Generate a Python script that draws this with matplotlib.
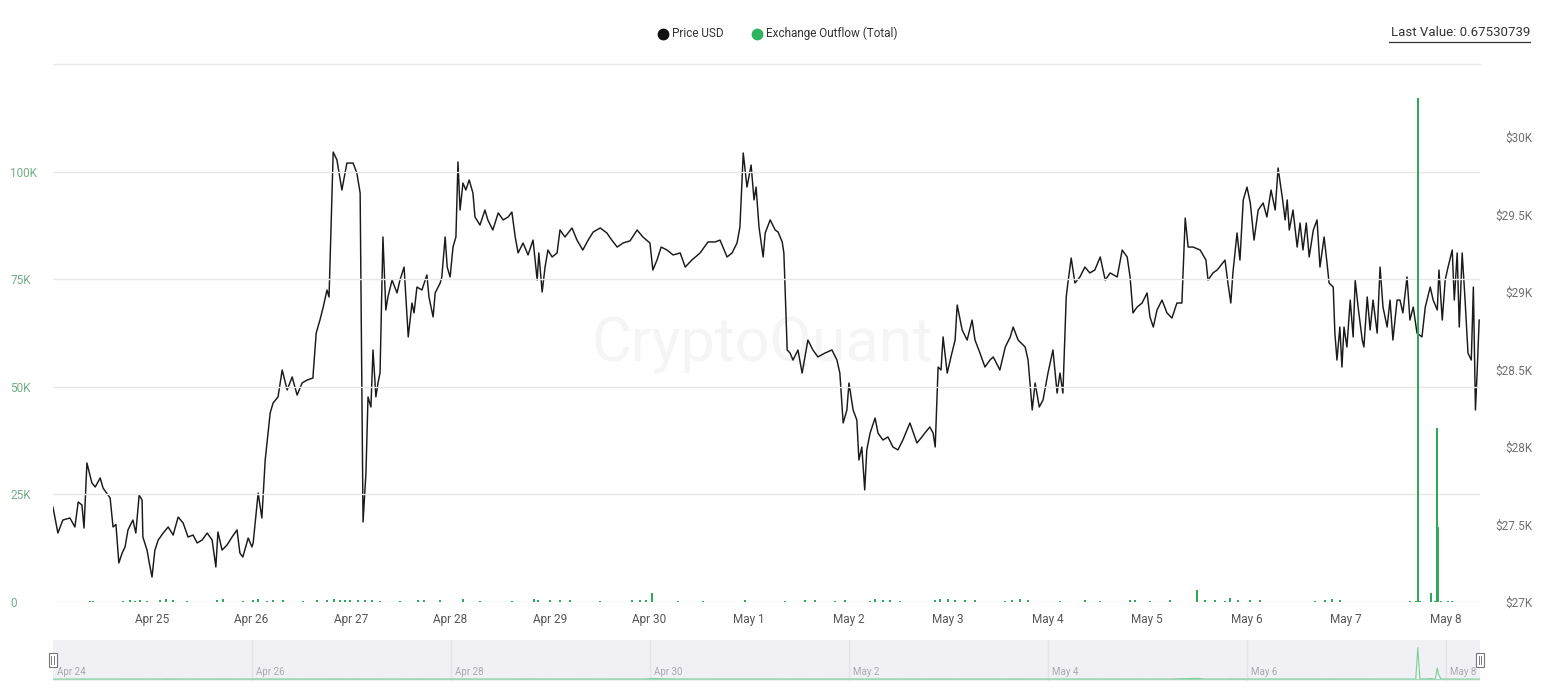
import matplotlib
matplotlib.use("Agg")
import matplotlib.pyplot as plt
from matplotlib.lines import Line2D
from matplotlib.patches import Rectangle

plt.rcParams['font.family'] = ['Roboto', 'DejaVu Sans']

# ---------------- data ----------------
# hours since Apr 24 00:00
price_hours = [0.1, 1.3, 2.5, 4.2, 5.4, 6.2, 7.1, 7.6, 8.3, 9.5, 10.3, 11.5, 12.2, 13.9, 14.6, 15.3, 16.0, 16.8,
               17.5, 18.2, 19.4, 20.1, 20.9, 21.6, 21.8, 22.8, 23.3, 24.0, 24.7, 25.5, 26.7, 27.9, 29.1, 30.3,
               31.5, 32.7, 33.9, 34.9, 36.1, 37.3, 38.5, 39.4, 39.9, 40.9, 42.1, 43.3, 44.5, 45.2, 45.9, 47.2,
               48.1, 48.4, 49.6, 50.5, 51.3, 52.5, 53.2, 54.4, 55.4, 56.6, 57.8, 59.0, 60.2, 61.4, 62.8, 63.6,
               64.5, 65.3, 66.2, 66.7, 67.7, 68.6, 69.8, 71.0, 72.5, 73.4, 74.2, 74.9, 75.6, 76.1, 76.8, 77.3,
               78.0, 78.5, 79.0, 79.7, 80.4, 80.9, 81.9, 83.1, 83.8, 84.8, 85.8, 86.7, 87.2, 87.9, 89.1, 90.3,
               90.8, 91.8, 92.3, 93.5, 93.9, 94.7, 95.2, 95.9, 96.6, 97.3, 97.8, 98.3, 99.0, 99.7, 100.5, 101.4,
               101.9, 103.1, 104.3, 105.0, 106.2, 107.5, 108.7, 109.9, 110.8, 111.6, 112.3, 113.5, 114.7, 115.9,
               116.9, 117.3, 118.1, 118.8, 119.5, 120.5, 121.7, 122.4, 123.6, 125.3, 126.5, 127.9, 129.2, 130.4,
               132.1, 133.7, 134.9, 136.2, 137.6, 139.3, 141.0, 142.4, 144.1, 144.8, 145.8, 146.8, 148.2, 149.7,
               151.4, 152.6, 154.2, 156.2, 158.1, 159.8, 161.0, 162.7, 163.9, 165.1, 165.8, 166.6, 167.5, 168.5,
               169.2, 169.7, 170.4, 171.4, 171.9, 173.1, 174.3, 175.0, 176.0, 176.4, 177.2, 177.9, 178.6, 179.8,
               180.8, 182.2, 183.4, 184.6, 186.3, 188.0, 189.2, 189.9, 190.7, 191.6, 192.1, 193.1, 194.0, 194.5,
               195.2, 195.9, 196.4, 197.2, 198.4, 199.1, 200.3, 201.5, 202.7, 203.9, 205.1, 206.8, 208.5, 209.7,
               210.4, 211.6, 212.4, 212.9, 213.6, 214.3, 214.8, 215.8, 216.7, 217.7, 218.2, 219.4, 220.6, 221.8,
               222.5, 223.7, 224.9, 226.1, 226.9, 228.5, 229.8, 231.0, 231.7, 232.9, 234.6, 235.3, 236.3, 237.0,
               238.0, 238.9, 240.1, 241.3, 242.3, 243.0, 243.7, 244.5, 244.9, 245.7, 246.6, 247.8, 249.0, 250.2,
               251.4, 252.7, 253.9, 255.1, 256.8, 258.0, 259.2, 259.9, 260.6, 261.6, 262.8, 264.0, 264.7, 265.5,
               266.4, 267.6, 268.8, 270.0, 271.2, 272.4, 273.2, 273.9, 275.1, 276.8, 278.2, 278.7, 279.9, 280.9,
               282.8, 283.5, 284.2, 284.7, 285.7, 286.4, 287.2, 288.1, 288.9, 289.8, 290.8, 292.0, 292.9, 293.9,
               294.9, 295.6, 296.6, 297.3, 297.8, 298.3, 299.2, 300.2, 300.9, 301.6, 302.4, 303.1, 304.1, 305.0,
               305.7, 306.7, 307.4, 307.9, 308.9, 309.3, 309.8, 310.5, 311.0, 311.5, 312.2, 313.0, 313.7, 314.2,
               314.9, 315.9, 316.3, 317.1, 317.8, 318.5, 319.5, 320.2, 320.9, 321.9, 322.6, 323.3, 324.3, 325.0,
               325.7, 326.7, 327.4, 328.2, 329.1, 330.3, 331.1, 332.3, 333.0, 334.0, 334.4, 335.2, 335.9, 336.6,
               337.6, 338.1, 338.8, 339.3, 340.0, 340.7, 341.4, 342.2, 342.7, 343.2, 343.6, 344.1]

price_usd = [27613, 27445, 27529, 27542, 27484, 27645, 27626, 27477, 27897, 27768, 27742, 27800, 27735, 27671,
             27484, 27500, 27252, 27316, 27355, 27465, 27529, 27445, 27690, 27658, 27419, 27335, 27258, 27161,
             27335, 27400, 27445, 27484, 27432, 27548, 27510, 27419, 27432, 27381, 27400, 27445, 27400, 27226,
             27452, 27335, 27368, 27419, 27465, 27316, 27290, 27413, 27355, 27381, 27703, 27542, 27916, 28219,
             28284, 28323, 28497, 28368, 28452, 28335, 28413, 28432, 28445, 28735, 28819, 28903, 29013, 28968,
             29903, 29852, 29658, 29832, 29832, 29768, 29639, 27516, 27832, 28323, 28258, 28626, 28323, 28413,
             28477, 29355, 28884, 28968, 29077, 28994, 29077, 29161, 28710, 28929, 28865, 29032, 29013, 29110,
             28968, 28839, 28994, 29058, 29097, 29355, 29161, 29097, 29290, 29355, 29839, 29529, 29703, 29658,
             29723, 29639, 29484, 29432, 29529, 29465, 29400, 29510, 29465, 29484, 29516, 29355, 29252, 29316,
             29239, 29335, 29077, 29252, 29000, 29161, 29271, 29226, 29252, 29400, 29355, 29413, 29335, 29271,
             29335, 29387, 29413, 29381, 29335, 29290, 29316, 29330, 29400, 29355, 29316, 29142, 29206, 29290,
             29271, 29239, 29252, 29161, 29206, 29252, 29323, 29323, 29335, 29226, 29252, 29316, 29419, 29897,
             29677, 29819, 29594, 29677, 29419, 29226, 29381, 29465, 29400, 29387, 29323, 29252, 28626, 28606,
             28561, 28626, 28477, 28690, 28626, 28581, 28606, 28626, 28561, 28477, 28155, 28239, 28413, 28239,
             28174, 27916, 28000, 27723, 27981, 28090, 28187, 28090, 28045, 28065, 28000, 27981, 28045, 28155,
             28026, 28065, 28090, 28129, 28090, 28000, 28516, 28497, 28710, 28477, 28581, 28690, 28916, 28755,
             28690, 28819, 28690, 28606, 28516, 28561, 28581, 28497, 28645, 28710, 28774, 28690, 28645, 28561,
             28239, 28413, 28258, 28303, 28477, 28626, 28348, 28477, 28348, 28968, 29058, 29219, 29058, 29097,
             29161, 29123, 29142, 29226, 29077, 29123, 29097, 29271, 29226, 29097, 28865, 28903, 28929, 28994,
             28839, 28774, 28884, 28948, 28865, 28832, 28929, 28929, 29477, 29290, 29290, 29271, 29206, 29077,
             29123, 29142, 29206, 29058, 28929, 29123, 29381, 29206, 29594, 29677, 29574, 29335, 29529, 29574,
             29484, 29658, 29529, 29800, 29613, 29465, 29594, 29400, 29529, 29290, 29445, 29271, 29445, 29226,
             29400, 29465, 29161, 29355, 29187, 29058, 29032, 28735, 28561, 28774, 28516, 28774, 28645, 28948,
             28710, 29077, 28903, 28690, 28645, 28968, 28755, 28948, 28735, 29161, 28903, 28774, 28948, 28690,
             28948, 28948, 28865, 29097, 28819, 28903, 28735, 28710, 28903, 29032, 28948, 28884, 29142, 28819,
             29077, 29161, 29271, 28948, 29252, 28774, 29252, 28948, 28606, 28561, 29032, 28239, 28477, 28819]

outflow_hours = [9.0, 9.8, 17.0, 18.7, 19.9, 21.1, 22.8, 25.9, 27.4, 29.1, 32.4, 39.7, 41.1, 45.9, 48.4, 49.6,
                 51.7, 53.2, 55.6, 60.4, 63.8, 66.2, 67.9, 69.4, 70.6, 71.8, 73.7, 75.4, 77.0, 79.0, 83.8, 88.2,
                 89.6, 93.5, 99.0, 103.1, 110.8, 116.1, 117.1, 120.0, 122.4, 124.8, 132.1, 139.8, 141.7, 143.1,
                 144.6, 150.8, 156.9, 167.0, 176.7, 181.5, 183.9, 188.7, 191.2, 197.2, 198.4, 200.3, 202.0, 204.4,
                 212.9, 214.1, 216.0, 217.7, 220.1, 222.5, 229.8, 231.4, 233.4, 235.3, 243.0, 249.0, 252.7, 259.9,
                 261.1, 264.7, 269.5, 276.0, 278.0, 280.4, 282.8, 284.0, 285.9, 288.9, 291.2, 304.5, 306.9, 308.6,
                 310.5, 327.4, 328.8, 329.3, 329.8, 332.5, 333.5, 334.0, 334.3, 334.9, 336.6, 337.6]

outflow_total = [300, 250, 300, 400, 300, 450, 250, 350, 800, 400, 250, 500, 650, 300, 400, 600,
                 300, 450, 350, 300, 400, 350, 800, 500, 400, 450, 550, 350, 500, 300, 250, 550,
                 400, 350, 600, 250, 300, 800, 450, 350, 500, 400, 250, 400, 350, 450,
                 2100, 250, 300, 350, 300, 350, 450, 300, 400, 300, 600, 350, 450, 250,
                 500, 750, 600, 450, 350, 400, 300, 500, 650, 350, 300, 400, 250, 500,
                 350, 300, 350, 2800, 400, 500, 300, 900, 450, 350, 400, 300, 400, 650,
                 350, 250, 150, 117200, 150, 2000, 150, 40500, 17500, 150, 250, 300]

day_labels = ['Apr 25', 'Apr 26', 'Apr 27', 'Apr 28', 'Apr 29', 'Apr 30', 'May 1',
              'May 2', 'May 3', 'May 4', 'May 5', 'May 6', 'May 7', 'May 8']
nav_labels = ['Apr 24', 'Apr 26', 'Apr 28', 'Apr 30', 'May 2', 'May 4', 'May 6', 'May 8']
price_ticks = [27000, 27500, 28000, 28500, 29000, 29500, 30000]
price_tick_labels = ['$27K', '$27.5K', '$28K', '$28.5K', '$29K', '$29.5K', '$30K']
flow_ticks = [0, 25000, 50000, 75000, 100000]
flow_tick_labels = ['0', '25K', '50K', '75K', '100K']

# ---------------- figure ----------------
W, H = 1546, 692
fig = plt.figure(figsize=(W / 100, H / 100), dpi=100)
fig.patch.set_facecolor('white')

x0, x1, yb, yt = 52.5, 1480, 602, 64
ax = fig.add_axes([x0 / W, 1 - yb / H, (x1 - x0) / W, (yb - yt) / H])
ax.set_xlim(0, 344.3)
ax.set_ylim(27000, 30471)
for s in ax.spines.values():
    s.set_visible(False)

ax.text(0.497, 0.478, 'CryptoQuant', transform=ax.transAxes, fontsize=44, color='#f5f5f5',
        ha='center', va='center', zorder=0)

ax.plot(price_hours, price_usd, color='#1a1a1a', lw=1.05, zorder=3)

ax.set_xticks([24 * (i + 1) for i in range(len(day_labels))])
ax.set_xticklabels(day_labels)
ax.tick_params(axis='x', length=0, pad=8, labelsize=8.5, labelcolor='#555555')

ax2 = ax.twinx()
ax2.set_ylim(0, 125000)
for s in ax2.spines.values():
    s.set_visible(False)

# price ticks on the right
ax.yaxis.tick_right()
ax.set_yticks(price_ticks)
ax.set_yticklabels(price_tick_labels)
ax.tick_params(axis='y', which='both', left=False, right=True, labelleft=False, labelright=True,
               length=0, pad=38, labelsize=8.5, labelcolor='#707070')
for lab in ax.get_yticklabels(which='both'):
    lab.set_ha('right')

# outflow ticks on the left
ax2.yaxis.tick_left()
ax2.set_yticks(flow_ticks)
ax2.set_yticklabels(flow_tick_labels)
ax2.tick_params(axis='y', which='both', left=True, right=False, labelleft=True, labelright=False,
                length=0, pad=30.5, labelsize=8.5, labelcolor='#72ad86')
for lab in ax2.get_yticklabels(which='both'):
    lab.set_ha('left')
ax2.grid(axis='y', color='#e8e8e8', lw=1, zorder=0)
ax2.axhline(125000, color='#e8e8e8', lw=1, clip_on=False)
ax2.bar(outflow_hours, outflow_total, width=0.45, color='#2eaa5c', linewidth=0, zorder=4)

# ---------------- navigator ----------------
axn = fig.add_axes([x0 / W, 1 - 681 / H, (x1 - x0) / W, 41 / H])
axn.set_facecolor('#f1f1f5')
axn.set_xlim(0, 344.3)
axn.set_ylim(-7000, 145000)
for s in axn.spines.values():
    s.set_visible(False)
axn.set_xticks([])
axn.set_yticks([])
for i, lab in enumerate(nav_labels):
    h = 48 * i
    if i > 0:
        axn.axvline(h, color='#e3e3ea', lw=1)
    axn.text(h + 1.0, 0.22, lab, transform=axn.get_xaxis_transform(), fontsize=7,
             color='#a8a8b0', ha='left', va='center')
axn.plot([0] + outflow_hours + [344.3], [0] + outflow_total + [0], color='#7ccf9c', lw=0.8)
axn.axhline(0, color='#9fd8b5', lw=0.8)

for hx in (52.5, 1480):
    fig.add_artist(Rectangle(((hx - 4) / W, 1 - 667 / H), 8 / W, 14 / H, transform=fig.transFigure,
                             facecolor='white', edgecolor='#777777', lw=0.8))
    for dx in (-1.2, 1.2):
        fig.add_artist(Line2D([(hx + dx) / W] * 2, [1 - 664 / H, 1 - 656 / H], transform=fig.transFigure,
                              color='#777777', lw=0.7))

# ---------------- legend & last value ----------------
fig.add_artist(Line2D([663 / W], [1 - 33.5 / H], marker='o', markersize=7.5, color='#111111',
                      transform=fig.transFigure))
fig.text(672 / W, 1 - 33.5 / H, 'Price USD', fontsize=8.5, color='#333333', ha='left', va='center')
fig.add_artist(Line2D([757 / W], [1 - 33.5 / H], marker='o', markersize=7.5, color='#2eb35f',
                      transform=fig.transFigure))
fig.text(766 / W, 1 - 33.5 / H, 'Exchange Outflow (Total)', fontsize=8.5, color='#333333',
         ha='left', va='center')

fig.text(1530 / W, 1 - 33 / H, 'Last Value: 0.67530739', fontsize=9.5, color='#333333',
         ha='right', va='center')
fig.add_artist(Line2D([1389 / W, 1530 / W], [1 - 42 / H] * 2, transform=fig.transFigure,
                      color='#333333', lw=0.9))

fig.savefig('out.png', dpi=100, facecolor='white')
